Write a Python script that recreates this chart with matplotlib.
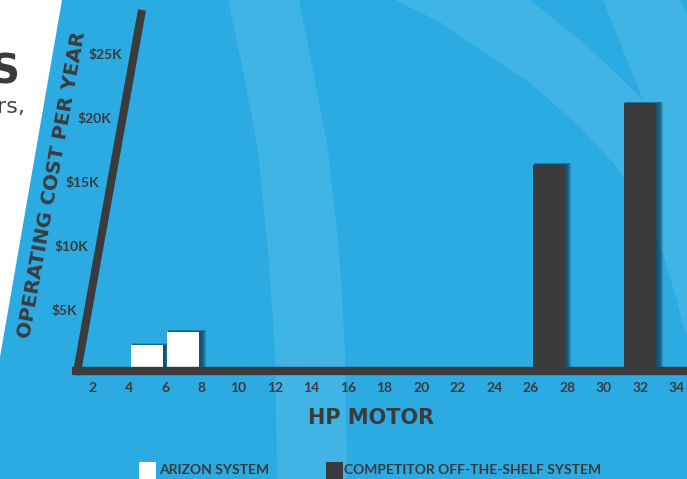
import numpy as np
import matplotlib.pyplot as plt
from matplotlib.patches import Polygon, Rectangle

# data
arizon_hp = [5, 7]
arizon_cost = [2.0, 3.05]          # $K per year
comp_hp = [27, 32]
comp_cost = [16.1, 20.9]
xticks = list(range(2, 35, 2))
yticks = [5, 10, 15, 20, 25]
ytick_labels = ['$5K', '$10K', '$15K', '$20K', '$25K']

BLUE = '#2caae2'
LIGHT = '#40b4e5'
DARK = '#3b3b3d'
SHADOW = '#0a2638'

fig = plt.figure(figsize=(6.87, 4.79), dpi=100)
fig.patch.set_facecolor(BLUE)

# background decoration, pixel coordinates
bg = fig.add_axes([0, 0, 1, 1])
bg.set_xlim(0, 687)
bg.set_ylim(479, 0)
bg.axis('off')
band1 = [(228, 0), (244, 75), (258, 150), (268, 250), (275, 350), (277, 479),
         (347, 479), (345, 350), (339, 250), (328, 150), (314, 75), (299, 0)]
bg.add_patch(Polygon(band1, closed=True, fc=LIGHT, ec='none'))
band2 = [(395, 0), (440, 22), (480, 50), (530, 83), (580, 127), (613, 163),
         (640, 200), (663, 253), (687, 337), (687, 13), (680, 0), (603, 0),
         (623, 50), (643, 100), (620, 77), (580, 40), (530, 0)]
bg.add_patch(Polygon(band2, closed=True, fc=LIGHT, ec='none'))
bg.add_patch(Polygon([(0, 0), (62, 0), (0, 357)], closed=True, fc='white', ec='none'))
bg.text(19, 83, 'S', fontsize=29, fontweight='bold', color=DARK, ha='right', va='baseline')
bg.text(25, 113, 'rs,', fontsize=16, color='#444446', ha='right', va='baseline')

# chart axes, data coordinates
ax = fig.add_axes([0, 0, 1, 1])
ax.patch.set_alpha(0)
ax.set_xlim(-3.036, 34.546)
ax.set_ylim(-8.44, 28.98)
ax.axis('off')

w = 1.75
# soft shadows to the right of the bars
for k in range(1, 6):
    a = 0.2
    ax.bar(np.array(arizon_hp) - w / 2 + 0.05, np.array(arizon_cost) + 0.03 * k,
           width=w + 0.06 * k, align='edge', color=SHADOW, alpha=a, zorder=2, lw=0)
    ax.bar(np.array(comp_hp) - w / 2 + 0.05, np.array(comp_cost) + 0.03 * k,
           width=w + 0.06 * k, align='edge', color=SHADOW, alpha=a, zorder=2, lw=0)

ax.bar(arizon_hp, arizon_cost, width=w, color='white', zorder=3, lw=0,
       label='ARIZON SYSTEM')
ax.bar(comp_hp, comp_cost, width=w, color=DARK, zorder=3, lw=0,
       label='COMPETITOR OFF-THE-SHELF SYSTEM')

# slanted y axis and x axis lines
sx0, sy0, sx1, sy1 = 1.15, -0.31, 4.73, 28.2
ax.plot([sx0, sx1], [sy0, sy1], color=DARK, lw=5.8, solid_capstyle='butt', zorder=4)
ax.plot([0.9, 34.6], [0, 0], color=DARK, lw=6, solid_capstyle='butt', zorder=4)

tick_font = dict(family='Lato', fontweight='bold', fontsize=10, color=DARK)
for t in xticks:
    ax.text(t, -1.33, str(t), ha='center', va='center', **tick_font)
for v, lab in zip(yticks, ytick_labels):
    yl = v - 0.35
    xa = sx0 + (sx1 - sx0) * (yl - sy0) / (sy1 - sy0)
    ax.text(xa - 0.62, yl, lab, ha='right', va='center', **tick_font)

ax.text(-0.19, 14.53, 'OPERATING COST PER YEAR', rotation=79.8, rotation_mode='anchor',
        ha='center', va='center', fontsize=14.3, fontweight='bold', color=DARK)
ax.text(17.26, -3.67, 'HP MOTOR', ha='center', va='center', fontsize=15,
        fontweight='bold', color=DARK)

# legend
bg.add_patch(Rectangle((139, 462), 17, 20, fc='white', ec='none'))
bg.text(159, 470.5, 'ARIZON SYSTEM', ha='left', va='center', **tick_font)
bg.add_patch(Rectangle((326, 462), 17, 20, fc=DARK, ec='none'))
bg.text(344, 470.5, 'COMPETITOR OFF-THE-SHELF SYSTEM', ha='left', va='center', **tick_font)

fig.savefig('out.png', dpi=100, facecolor=BLUE)
